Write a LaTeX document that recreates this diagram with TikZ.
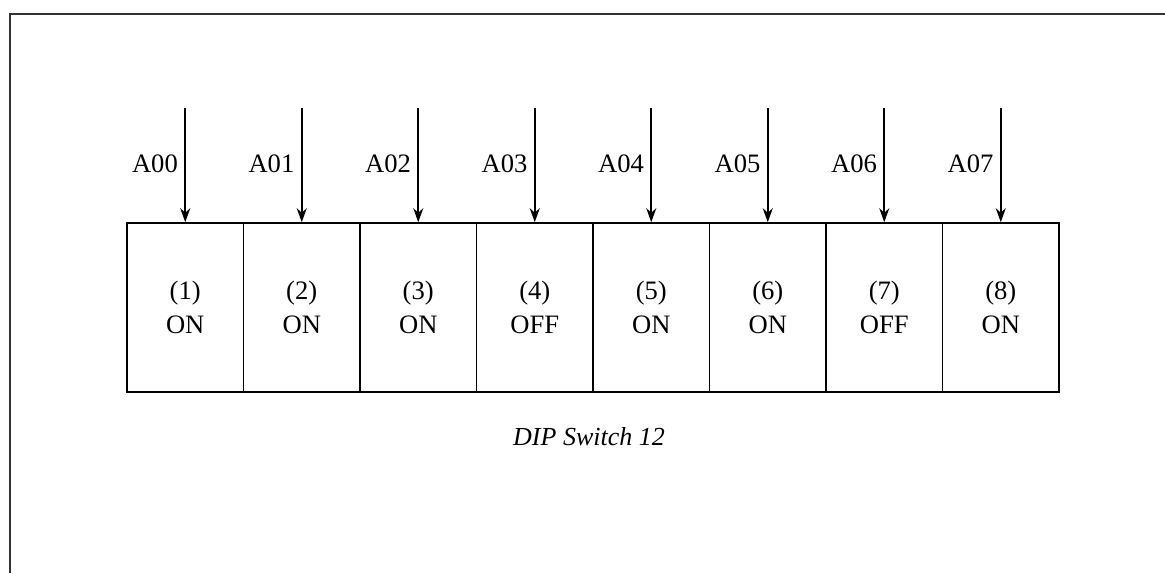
\documentclass[tikz,border=0pt]{standalone}
\usepackage{fontspec}
\setmainfont{Liberation Serif}
\usetikzlibrary{arrows.meta}
\begin{document}
\begin{tikzpicture}[x=0.5pt,y=-0.5pt,
  frame/.style={line width=0.9pt, black!80},
  switchbox/.style={draw, line width=0.8pt, minimum width=58.25pt, minimum height=84.5pt, inner sep=0pt, align=center, font=\fontsize{13.3}{15}\selectfont},
  sigarrow/.style={line width=0.8pt, -{Stealth[length=7pt,width=5pt]}},
  siglabel/.style={font=\fontsize{13.3}{15}\selectfont, inner sep=0pt, anchor=base east},
  caption/.style={font=\fontsize{13}{15}\selectfont\itshape, inner sep=0pt}]
\useasboundingbox (0,0) rectangle (1165,573);
\coordinate (fb) at (10,573);
\coordinate (ftl) at (10,14);
\coordinate (fr) at (1165,14);
\draw[frame] (fb) -- (ftl) -- (fr);
\foreach \i/\s [count=\k from 0] in {1/ON,2/ON,3/ON,4/OFF,5/ON,6/ON,7/OFF,8/ON}{
  \pgfmathsetmacro{\cx}{127+116.5*(\i-1)+58.25}
  \node[switchbox] (s\i) at (\cx,307.5) {(\i)\\[2pt]\s};
  \coordinate (t\i) at (\cx,108);
  \draw[sigarrow] (t\i) -- (s\i.north);
  \node[siglabel] (l\i) at (\cx-7,172) {A0\k};
}
\node[caption] (cap) at (589,437) {DIP Switch 12};
\end{tikzpicture}
\end{document}
